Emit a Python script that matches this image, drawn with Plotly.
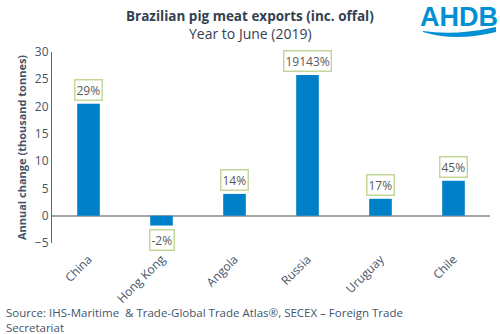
import plotly.graph_objects as go

countries = ["China", "Hong Kong", "Angola", "Russia", "Uruguay", "Chile"]
change_kt = [20.5, -1.8, 4.0, 25.8, 3.1, 6.4]
pct_labels = ["29%", "-2%", "14%", "19143%", "17%", "45%"]

W, H = 500, 334
L, R, T, B = 52, 10, 52, 91

def px(x):
    return (x - L) / (W - L - R)

def py(y):
    return (H - B - y) / (H - T - B)

txt = "#44546A"
fig = go.Figure()
fig.add_trace(go.Bar(x=countries, y=change_kt, marker_color="#0080C8",
                     marker_line_width=0, width=0.31, showlegend=False))

annots = []
for c, v, lab in zip(countries, change_kt, pct_labels):
    annots.append(dict(x=c, y=v, xref="x", yref="y", text=lab, showarrow=False,
                       xanchor="center",
                       yanchor="bottom" if v >= 0 else "top",
                       yshift=3 if v >= 0 else -3,
                       font=dict(family="Open Sans", size=12, color="#595959"),
                       bordercolor="#C4D79B", borderwidth=1.5, borderpad=1,
                       bgcolor="white"))

annots += [
    dict(x=px(250), y=py(16), xref="paper", yref="paper", showarrow=False,
         xanchor="center", yanchor="middle",
         text="<b>Brazilian pig meat exports (inc. offal)</b>",
         font=dict(family="Open Sans", size=13.5, color="#333F50")),
    dict(x=px(250), y=py(33), xref="paper", yref="paper", showarrow=False,
         xanchor="center", yanchor="middle",
         text="Year to June (2019)",
         font=dict(family="Open Sans", size=14, color="#333F50")),
    dict(x=px(459), y=py(17), xref="paper", yref="paper", showarrow=False,
         xanchor="center", yanchor="middle", borderpad=0,
         text="<b>AHDB</b>",
         font=dict(family="Arial", size=27, color="#0090D4")),
    dict(x=px(4), y=py(320), xref="paper", yref="paper", showarrow=False,
         xanchor="left", yanchor="middle", align="left",
         text="Source: IHS-Maritime  & Trade-Global Trade Atlas®, SECEX – Foreign Trade<br>Secretariat",
         font=dict(family="Open Sans", size=11.5, color=txt)),
]

# logo swoosh
path = "M {} {}".format(px(423), py(31))
path += " Q {} {} {} {}".format(px(455), py(36), px(496), py(27))
path += " L {} {}".format(px(496), py(32))
path += " Q {} {} {} {} Z".format(px(455), py(42), px(423), py(32))

fig.update_layout(
    width=W, height=H,
    margin=dict(l=L, r=R, t=T, b=B),
    paper_bgcolor="white", plot_bgcolor="white",
    annotations=annots,
    shapes=[dict(type="path", path=path, xref="paper", yref="paper",
                 fillcolor="#0090D4", line=dict(width=0))],
    font=dict(family="Open Sans", color=txt),
    xaxis=dict(tickangle=-45, tickfont=dict(size=12, color=txt),
               showline=False, showgrid=False, ticks="", ticklabelstandoff=6),
    yaxis=dict(range=[-5, 30], dtick=5, showgrid=False, zeroline=True,
               zerolinecolor="#A6A6A6", zerolinewidth=1.5,
               showline=True, linecolor="#5B6B7F", linewidth=1, ticks="",
               tickfont=dict(size=12, color=txt),
               title=dict(text="<b>Annual change (thousand tonnes)</b>",
                          font=dict(size=11, color=txt), standoff=6)),
)

fig.write_html("out.html")
